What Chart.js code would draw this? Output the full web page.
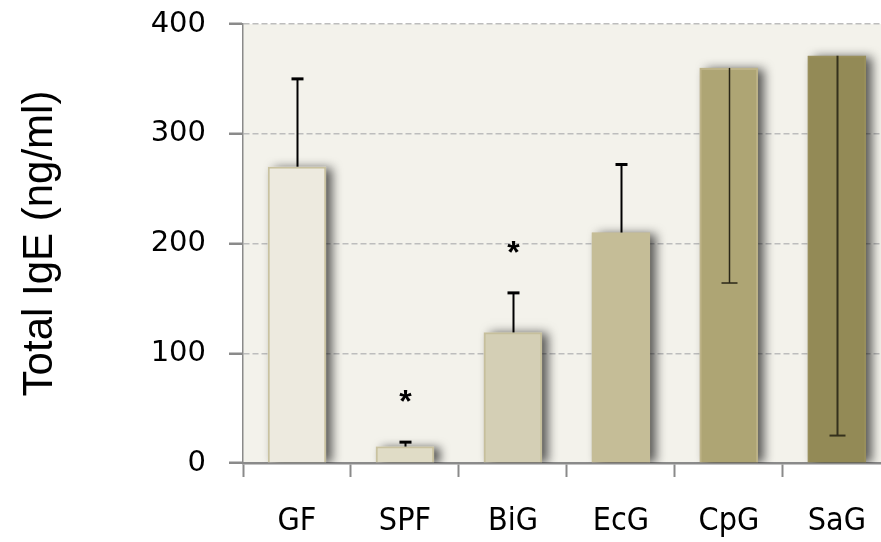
<!DOCTYPE html>
<html>
<head>
<meta charset="utf-8">
<script src="https://cdn.jsdelivr.net/npm/chart.js@4.4.0/dist/chart.umd.min.js"></script>
<style>
  html, body { margin: 0; padding: 0; background: #fff; overflow: hidden; }
  #wrap { width: 891px; height: 542px; position: relative; }
</style>
</head>
<body>
<div id="wrap"><canvas id="c"></canvas></div>
<script>
// Total IgE per colonisation group (mean and SEM, ng/ml)
const groups = ['GF', 'SPF', 'BiG', 'EcG', 'CpG', 'SaG'];
const igeMean = [270, 15, 119, 210, 360, 371];
const igeErr = [80, 4, 36, 62, 196, 346];
const errDir = [1, 1, 1, 1, -1, -1];          // +1 whisker up, -1 whisker down
const significant = [false, true, true, false, false, false];
const yTicks = [0, 100, 200, 300, 400];

// styling
const barFills   = ['#edeadf', '#e0dcc6', '#d4cfb5', '#c5bd97', '#aea574', '#938a56'];
const barBorders = ['#c9c2a0', '#c9c2a0', '#c6bf9c', '#c5bd97', '#bdb388', '#998f5c'];
const whiskerColor = ['#000', '#000', '#000', '#000', '#2a2718', '#35311c'];
const whiskerWidth = [2, 2, 2, 2, 1.5, 2];
const capWidth     = [12, 12, 12, 12, 16, 16];
const capThick     = [3, 3, 3, 3, 1.5, 2];
const AXIS = '#8a8a8a';

const plotBackground = {
  id: 'plotBackground',
  beforeDraw(chart) {
    const { ctx, chartArea: a } = chart;
    ctx.save();
    ctx.fillStyle = '#f3f2eb';
    ctx.fillRect(a.left, a.top, a.right - a.left, a.bottom - a.top);
    ctx.restore();
  }
};

const barShadow = {
  id: 'barShadow',
  beforeDatasetsDraw(chart) {
    const { ctx } = chart;
    const meta = chart.getDatasetMeta(0);
    ctx.save();
    ctx.beginPath();
    ctx.rect(chart.chartArea.left, chart.chartArea.top - 20,
             chart.chartArea.right - chart.chartArea.left, chart.chartArea.bottom - chart.chartArea.top + 20);
    ctx.clip();
    meta.data.forEach((bar, i) => {
      const p = bar.getProps(['x', 'y', 'base', 'width'], true);
      ctx.save();
      ctx.shadowColor = 'rgba(0,0,0,0.65)';
      ctx.shadowBlur = 10;
      ctx.shadowOffsetX = 6;
      ctx.shadowOffsetY = 1;
      ctx.fillStyle = barFills[i];
      ctx.fillRect(p.x - p.width / 2, p.y, p.width, p.base - p.y);
      ctx.restore();
    });
    ctx.restore();
  }
};

const errorBars = {
  id: 'errorBars',
  afterDatasetsDraw(chart) {
    const { ctx } = chart;
    const yScale = chart.scales.y;
    const meta = chart.getDatasetMeta(0);
    ctx.save();
    meta.data.forEach((bar, i) => {
      const x = Math.round(bar.x) + 0.5;
      const y0 = yScale.getPixelForValue(igeMean[i]);
      const y1 = yScale.getPixelForValue(igeMean[i] + errDir[i] * igeErr[i]);
      ctx.strokeStyle = whiskerColor[i];
      ctx.lineWidth = whiskerWidth[i];
      ctx.beginPath();
      ctx.moveTo(x, y0);
      ctx.lineTo(x, y1);
      ctx.stroke();
      ctx.lineWidth = capThick[i];
      ctx.beginPath();
      ctx.moveTo(x - capWidth[i] / 2, y1);
      ctx.lineTo(x + capWidth[i] / 2, y1);
      ctx.stroke();
      if (significant[i]) {
        ctx.fillStyle = '#000';
        ctx.font = 'bold 32px "Liberation Sans"';
        ctx.textAlign = 'center';
        ctx.textBaseline = 'middle';
        ctx.fillText('*', x, y1 - 39);
      }
    });
    ctx.restore();
  }
};

new Chart(document.getElementById('c'), {
  type: 'bar',
  data: {
    labels: groups,
    datasets: [{
      data: igeMean,
      backgroundColor: barFills,
      borderColor: barBorders,
      borderWidth: 2,
      barPercentage: 0.54,
      categoryPercentage: 1
    }]
  },
  options: {
    responsive: true,
    maintainAspectRatio: false,
    animation: false,
    layout: { padding: { top: 24, right: 0, left: 0, bottom: 0 } },
    plugins: { legend: { display: false }, tooltip: { enabled: false } },
    scales: {
      x: {
        offset: true,
        grid: {
          offset: true,
          drawOnChartArea: false,
          drawTicks: true,
          tickLength: 14,
          tickColor: AXIS,
          tickWidth: 2
        },
        border: { display: true, color: AXIS, width: 2.5 },
        ticks: {
          color: '#000',
          padding: 25,
          font: { family: '"Liberation Sans Narrow", "DejaVu Sans Condensed", sans-serif', size: 32 }
        },
        afterFit(scale) { scale.height = 79; }
      },
      y: {
        min: 0,
        max: 400,
        afterBuildTicks(scale) { scale.ticks = yTicks.map(v => ({ value: v })); },
        grid: {
          color: '#bdbdbd',
          lineWidth: 1.5,
          tickLength: 14,
          tickColor: AXIS,
          tickWidth: 2.5,
          tickBorderDash: []
        },
        border: { display: true, color: AXIS, width: 1.5, dash: [6, 3] },
        ticks: {
          color: '#000',
          padding: 23,
          font: { family: '"DejaVu Sans", sans-serif', size: 29 }
        },
        title: {
          display: true,
          text: 'Total IgE (ng/ml)',
          color: '#000',
          padding: { top: 15, bottom: 0 },
          font: { family: '"Liberation Sans", Arial, sans-serif', size: 42, weight: 'normal' }
        },
        afterFit(scale) {
          scale.width = 243;
          scale.paddingTop = 0;
          scale.paddingBottom = 0;
        }
      }
    }
  },
  plugins: [plotBackground, barShadow, errorBars]
});
</script>
</body>
</html>
